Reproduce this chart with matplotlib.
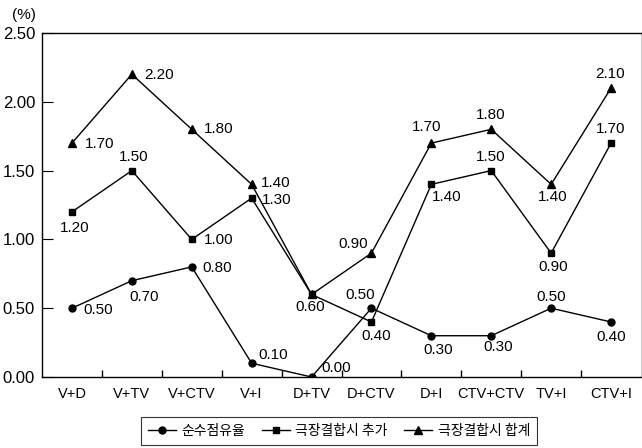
import matplotlib.pyplot as plt
import numpy as np

plt.rcParams['font.family'] = ['Noto Sans CJK KR', 'DejaVu Sans']

# combinations and shares (%)
categories = ['V+D', 'V+TV', 'V+CTV', 'V+I', 'D+TV', 'D+CTV', 'D+I', 'CTV+CTV', 'TV+I', 'CTV+I']
pure_share = [0.50, 0.70, 0.80, 0.10, 0.00, 0.50, 0.30, 0.30, 0.50, 0.40]
theater_add = [1.20, 1.50, 1.00, 1.30, 0.60, 0.40, 1.40, 1.50, 0.90, 1.70]
theater_total = [1.70, 2.20, 1.80, 1.40, 0.60, 0.90, 1.70, 1.80, 1.40, 2.10]
series_names = ['순수점유율', '극장결합시 추가', '극장결합시 합계']

num_font = 'Liberation Sans'

# label offsets in pixels (dx, dy), None = no label
off_pure = [(26, -2), (12, -16), (25, -1), (22, 8), (25, 9), (-11, 13), (7, -14), (7, -11), (0, 11), (0, -15)]
off_add = [(3, -16), (2, 14), (27, -1), (25, -2), (-1, -13), (5, -14), (15, -13), (-1, 14), (2, -14), (0, 14)]
off_total = [(28, -1), (27, -1), (27, 0), (24, 1), None, (-18, 9), (-5, 16), (-1, 14), (2, -13), (-1, 14)]

fig = plt.figure(figsize=(6.42, 4.48), dpi=100)
ax = fig.add_axes([42 / 642, 71 / 448, 599 / 642, 344 / 448])

x = np.arange(len(categories))
ax.plot(x, pure_share, 'k-', marker='o', ms=5, lw=1, label=series_names[0])
ax.plot(x, theater_add, 'k-', marker='s', ms=5, lw=1, label=series_names[1])
ax.plot(x, theater_total, 'k-', marker='^', ms=6, lw=1, label=series_names[2])

for vals, offs in [(pure_share, off_pure), (theater_add, off_add), (theater_total, off_total)]:
    for i, (v, o) in enumerate(zip(vals, offs)):
        if o is None:
            continue
        ax.annotate(f'{v:.2f}', (i, v), xytext=o, textcoords='offset pixels',
                    ha='center', va='center', fontsize=11, family=num_font)

ax.set_xlim(-0.5, len(categories) - 0.5)
ax.set_ylim(0, 2.5)
yt = np.arange(0, 2.51, 0.5)
ax.set_yticks(yt)
ax.set_yticklabels([f'{t:.2f}' for t in yt], family=num_font, fontsize=12)
ax.set_xticks(x)
ax.set_xticklabels(categories, family=num_font, fontsize=10.5)
ax.tick_params(axis='x', length=0, pad=7)
ax.set_xticks(np.arange(0.5, len(categories) - 1, 1), minor=True)
ax.tick_params(axis='x', which='minor', direction='in', length=5, width=1)
ax.tick_params(axis='y', direction='in', length=8, pad=5)
ax.spines['right'].set_color('#cccccc')
for s in ['left', 'bottom', 'top']:
    ax.spines[s].set_linewidth(1)

fig.text(12 / 642, 1 - 15 / 448, '(%)', fontsize=11, va='center', family=num_font)

leg = fig.legend(loc='center', bbox_to_anchor=(339 / 642, 1 - 431 / 448), ncol=3,
                 frameon=True, fancybox=False, edgecolor='black', fontsize=10,
                 handlelength=2.0, columnspacing=1.2, handletextpad=0.4,
                 borderpad=0.5, borderaxespad=0)
leg.get_frame().set_linewidth(0.8)

fig.savefig('out.png', dpi=100)
